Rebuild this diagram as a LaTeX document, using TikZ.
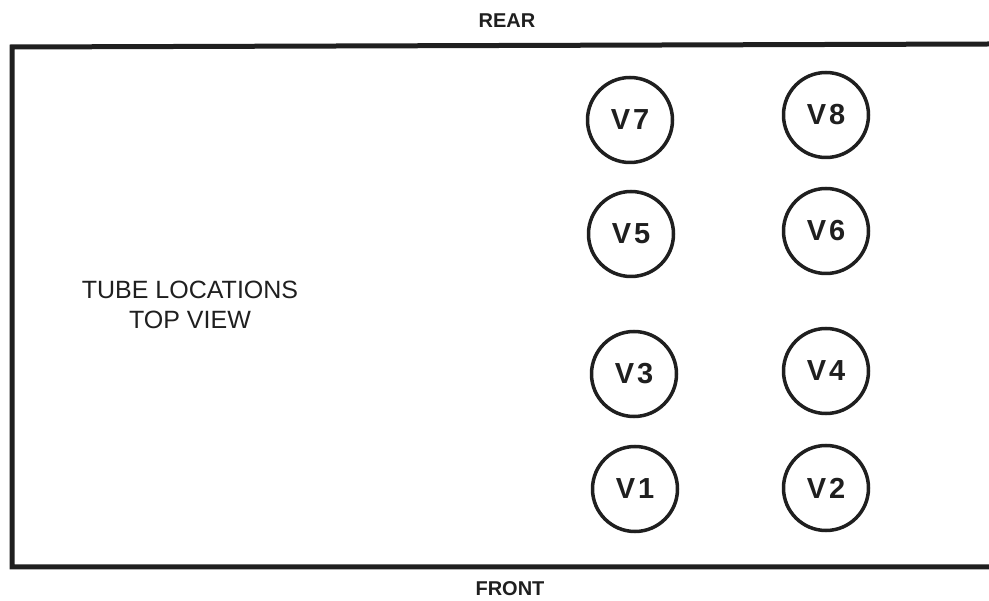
\documentclass[tikz,border=0pt]{standalone}
\usepackage{fontspec}
\setmainfont{Liberation Sans}
\colorlet{ink}{black!88}
\begin{document}
\begin{tikzpicture}[x=1pt,y=-1pt,
		tube/.style={circle,draw=ink,text=ink,line width=3.5pt,minimum size=85pt,inner sep=0pt,
			font=\fontsize{29}{29}\selectfont\bfseries},
		side/.style={text=ink,font=\fontsize{20}{20}\selectfont\bfseries}]
		\useasboundingbox(0,0)rectangle(989,601);
		% chassis outline, open to the right
		\draw[ink,line width=5pt]
			(989,44)--(12,47)--(12,567)--(989,567);

		\foreach \n/\x/\y in {7/630/120,8/826/115,5/631/234,6/826/231,
			3/634/374,4/826/371,1/635/489,2/826/488}
			\node[tube](V\n)at(\x,\y){V\kern3pt\n};

		\node[side](rear)at(507,21){REAR};
		\node[side](front)at(510,589){FRONT};
		\node[text=ink,align=center,font=\fontsize{25}{30}\selectfont](caption)at(190,305)
			{TUBE LOCATIONS\\TOP VIEW};
	\end{tikzpicture}
\end{document}
